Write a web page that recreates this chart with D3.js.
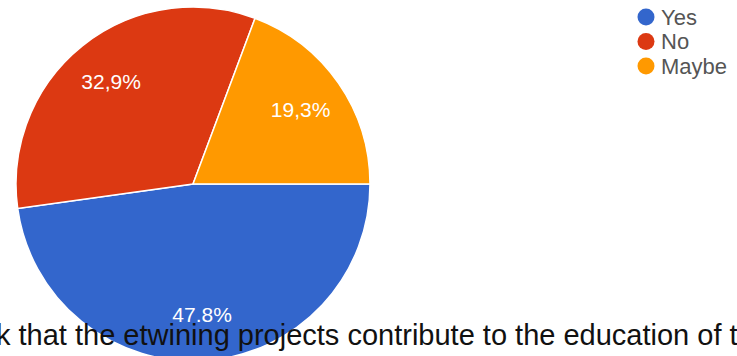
<!DOCTYPE html>
<html>
<head>
<meta charset="utf-8">
<script src="https://cdn.jsdelivr.net/npm/d3@7"></script>
<style>
  html, body { margin: 0; padding: 0; background: #fff; overflow: hidden; }
  svg { display: block; }
</style>
</head>
<body>
<svg id="chart" width="737" height="356"></svg>
<script>
// ---- data ----
const categories = ["Yes", "No", "Maybe"];
const values = [47.8, 32.9, 19.3];
const valueLabels = ["47.8%", "32,9%", "19,3%"];
const colors = ["#3366cc", "#dc3912", "#ff9900"];
const captionText = "k that the etwining projects contribute to the education of t";

// ---- layout ----
const cx = 193, cy = 184, R = 177;
const font = "Liberation Sans, Arial, sans-serif";

const svg = d3.select("#chart");

const pie = d3.pie()
  .value(d => d.value)
  .sort(null)
  .startAngle(Math.PI / 2)
  .endAngle(Math.PI / 2 + 2 * Math.PI);

const data = categories.map((c, i) => ({ name: c, value: values[i], label: valueLabels[i], color: colors[i] }));
const arcs = pie(data);

const arc = d3.arc().innerRadius(0).outerRadius(R);
const labelArc = d3.arc().innerRadius(R * 0.74).outerRadius(R * 0.74);

const g = svg.append("g").attr("transform", `translate(${cx},${cy})`);

g.selectAll("path.slice")
  .data(arcs)
  .join("path")
  .attr("class", "slice")
  .attr("d", arc)
  .attr("fill", d => d.data.color)
  .attr("stroke", "#fff")
  .attr("stroke-width", 1.5);

g.selectAll("text.lbl")
  .data(arcs)
  .join("text")
  .attr("class", "lbl")
  .attr("transform", d => `translate(${labelArc.centroid(d)})`)
  .attr("text-anchor", "middle")
  .attr("dominant-baseline", "central")
  .attr("font-family", font)
  .attr("font-size", 21)
  .attr("fill", "#fff")
  .text(d => d.data.label);

// caption lying over the pie
svg.append("text")
  .attr("x", -4)
  .attr("y", 345)
  .attr("font-family", font)
  .attr("font-size", 29)
  .attr("fill", "#111")
  .text(captionText);

// legend
const legend = svg.append("g").attr("transform", "translate(646,17)");
const li = legend.selectAll("g.item")
  .data(data)
  .join("g")
  .attr("class", "item")
  .attr("transform", (d, i) => `translate(0,${i * 24.5})`);
li.append("circle").attr("r", 8.5).attr("fill", d => d.color);
li.append("text")
  .attr("x", 15)
  .attr("dominant-baseline", "central")
  .attr("font-family", font)
  .attr("font-size", 22)
  .attr("fill", "#555")
  .text(d => d.name);
</script>
</body>
</html>
